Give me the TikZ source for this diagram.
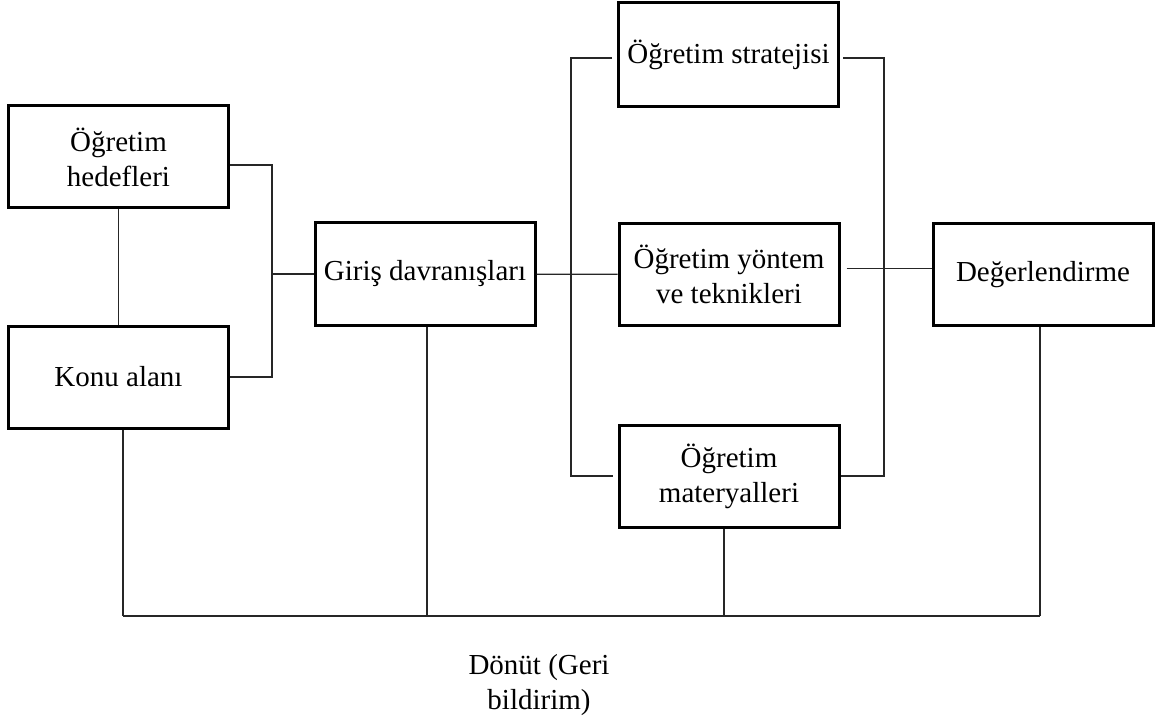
\documentclass[tikz,border=0pt]{standalone}
\usepackage{fontspec}
\setmainfont{Liberation Serif}
\usepackage{tikz}
\usetikzlibrary{positioning}

\begin{document}
\begin{tikzpicture}[
			x=1pt, y=-1pt
			,every node/.append style={font=\fontsize{29}{35}\selectfont}
			,box/.style={draw, line width=3pt, minimum width=220pt, minimum height=102pt, inner sep=0pt, align=center}
			,link/.style={line width=1.3pt, draw=black!85}
		]
			\useasboundingbox (0,0) rectangle (1159,722);

			\node [box] (hedef) at (118.5,157) {Öğretim\\hedefleri};
			\node [box] (konu) at (118.5,377) {Konu alanı};
			\node [box] (giris) at (425,274) {Giriş davranışları};
			\node [box, minimum height=104pt] (strat) at (728.5,55) {Öğretim stratejisi};
			\node [box] (yontem) at (729,274.5) {Öğretim yöntem\\ve teknikleri};
			\node [box] (mat) at (729,476.5) {Öğretim\\materyalleri};
			\node [box] (deger) at (1043,274.5) {Değerlendirme};

			\coordinate (jl) at (272,274);
			\coordinate (lt) at (571,58);
			\coordinate (lb) at (571,476);
			\coordinate (rt) at (884,58);
			\coordinate (rb) at (884,476);
			\coordinate (f1) at (123,616);
			\coordinate (f2) at (427,616);
			\coordinate (f3) at (724,616);
			\coordinate (f4) at (1040,616);

			\draw [link] (hedef) -- (konu);
			\draw [link] ([yshift=-8pt]hedef.east) -| (jl) |- (konu.east);
			\draw [link] (jl) -- (giris);
			\draw [link] (giris) -- (yontem);
			\draw [link, shorten <=5pt, shorten >=5pt] (strat.west |- lt) -- (lt) -- (lb) -- (mat.west |- lb);
			\draw [link, shorten <=3pt] (strat.east |- rt) -- (rt) -- (rb) -- (mat.east |- rb);
			\draw [link, shorten <=6pt] ([yshift=6pt]yontem.east) -- ([yshift=6pt]deger.west);

			% geri bildirim
			\draw [link] (konu.south -| f1) -- (f1);
			\draw [link] (giris.south -| f2) -- (f2);
			\draw [link] (mat.south -| f3) -- (f3);
			\draw [link] (deger.south -| f4) -- (f4);
			\draw [link] (f1) -- (f4);

			\node [align=center] (donut) at (539,685) {Dönüt (Geri\\bildirim)};
		\end{tikzpicture}
\end{document}
